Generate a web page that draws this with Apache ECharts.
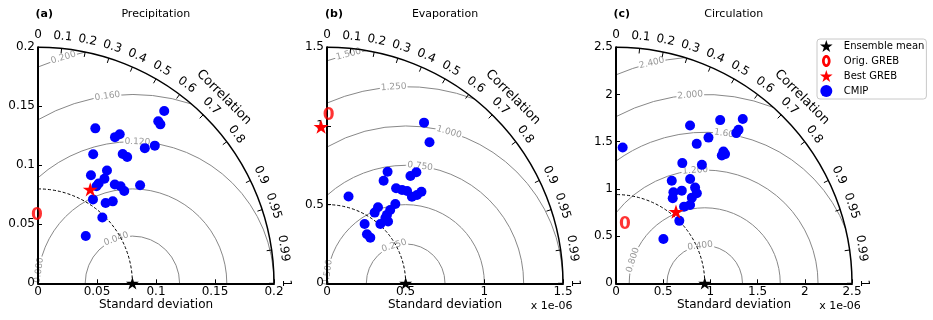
<!DOCTYPE html>
<html>
<head>
<meta charset="utf-8">
<script src="https://cdn.jsdelivr.net/npm/echarts@6/dist/echarts.min.js"></script>
<style>
    html, body { margin: 0; padding: 0; background: #fff; }
    #main { width: 933px; height: 320px; }
</style>
</head>
<body>
<div id="main"></div>
<script>
// correlation ticks on the outer arc
var corrTicks = [0, 0.1, 0.2, 0.3, 0.4, 0.5, 0.6, 0.7, 0.8, 0.9, 0.95, 0.99, 1];

// (a) Precipitation
var precipMax = 0.2, precipStep = 0.05;
var precipRef = 0.08;                       // ensemble mean std
var precipRms = [0.04, 0.08, 0.12, 0.16, 0.2];
var precipCmipStd  = [0.181, 0.171, 0.170, 0.140, 0.140, 0.144, 0.146, 0.153, 0.119, 0.131, 0.131, 0.112, 0.102, 0.105, 0.099, 0.096, 0.106, 0.108, 0.107, 0.120, 0.085, 0.089, 0.094, 0.078, 0.057];
var precipCmipCorr = [0.591, 0.596, 0.610, 0.347, 0.466, 0.481, 0.620, 0.647, 0.393, 0.548, 0.577, 0.522, 0.440, 0.536, 0.519, 0.516, 0.614, 0.648, 0.683, 0.721, 0.548, 0.644, 0.674, 0.699, 0.710];
var precipBest = [0.0911, 0.486];           // [std, corr]
var precipOrig = [0.0585, -0.015];

// (b) Evaporation (x 1e-06)
var evapMax = 1.5, evapStep = 0.5;
var evapRef = 0.5;
var evapRms = [0.25, 0.5, 0.75, 1.0, 1.25, 1.5];
var evapCmipStd  = [1.193, 1.108, 0.807, 0.906, 0.864, 0.745, 0.568, 0.747, 0.761, 0.777, 0.771, 0.801, 0.836, 0.665, 0.615, 0.582, 0.542, 0.578, 0.552, 0.507, 0.446, 0.402, 0.400, 0.557];
var evapCmipCorr = [0.517, 0.588, 0.477, 0.627, 0.614, 0.483, 0.241, 0.588, 0.627, 0.655, 0.700, 0.714, 0.718, 0.653, 0.653, 0.557, 0.559, 0.659, 0.703, 0.669, 0.536, 0.632, 0.688, 0.666];
var evapBest = [0.996, -0.038];
var evapOrig = [1.07, 0.01];

// (c) Circulation (x 1e-06)
var circMax = 2.5, circStep = 0.5;
var circRef = 0.94;
var circRms = [0.4, 0.8, 1.2, 1.6, 2.0, 2.4];
var circCmipStd  = [2.198, 2.051, 1.846, 2.080, 2.038, 1.440, 1.828, 1.707, 1.801, 1.757, 1.791, 1.454, 1.550, 1.356, 1.236, 1.315, 1.204, 1.141, 1.282, 1.212, 1.083, 1.142, 1.086, 0.942, 0.688];
var circCmipCorr = [0.611, 0.538, 0.425, 0.624, 0.625, 0.049, 0.536, 0.501, 0.632, 0.638, 0.645, 0.483, 0.587, 0.579, 0.478, 0.637, 0.579, 0.533, 0.668, 0.663, 0.555, 0.687, 0.664, 0.712, 0.730];
var circBest = [0.990, 0.642];
var circOrig = [0.643, 0.148];

var FONT = '"DejaVu Sans", sans-serif';
var STAR = 'path://M50,0L61.2,34.6L97.6,34.5L68.1,55.9L79.4,90.5L50,69L20.6,90.5L31.9,55.9L2.4,34.5L38.8,34.6Z';
// bold "0" glyph for the legend: outer ellipse clockwise, hole counter-clockwise
var ZERO = 'path://M5,0C7.76,0 10,3.13 10,7C10,10.87 7.76,14 5,14C2.24,14 0,10.87 0,7C0,3.13 2.24,0 5,0Z' +
           'M5,3.2C4.01,3.2 3.2,4.9 3.2,7C3.2,9.1 4.01,10.8 5,10.8C5.99,10.8 6.8,9.1 6.8,7C6.8,4.9 5.99,3.2 5,3.2Z';

var panels = [
    { max: precipMax, step: precipStep, ref: precipRef, rms: precipRms, std: precipCmipStd, corr: precipCmipCorr,
      best: precipBest, orig: precipOrig, left: 38, labelAngle: [110, 172, 88, 97.6, 107] },
    { max: evapMax, step: evapStep, ref: evapRef, rms: evapRms, std: evapCmipStd, corr: evapCmipCorr,
      best: evapBest, orig: evapOrig, left: 327, labelAngle: [107, 172, 83, 74, 93.5, 104] },
    { max: circMax, step: circStep, ref: circRef, rms: circRms, std: circCmipStd, corr: circCmipCorr,
      best: circBest, orig: circOrig, left: 616, labelAngle: [97, 162, 94.8, 81.6, 94.4, 103.5] }
];

// std/corr -> x,y of the Taylor plane
function toXY(s, r) {
    return [s * r, s * Math.sqrt(1 - r * r)];
}

function rmsItem(p) {
    return function (params, api) {
        var R = api.value(0);
        var c = api.coord([p.ref, 0]);
        var k = api.size([1, 0])[0];
        var M = p.max, r0 = p.ref;
        var a1 = 0, a2 = Math.PI;
        if (r0 + R > M) {
            var xi = (M * M - R * R + r0 * r0) / (2 * r0);
            a1 = Math.atan2(Math.sqrt(M * M - xi * xi), xi - r0);
        }
        if (R > r0) {
            a2 = Math.atan2(Math.sqrt(R * R - r0 * r0), -r0);
        }
        var la = p.labelAngle[params.dataIndex] * Math.PI / 180;
        return {
            type: 'group',
            children: [{
                type: 'arc',
                shape: { cx: c[0], cy: c[1], r: R * k, startAngle: -a1, endAngle: -a2, clockwise: false },
                style: { stroke: '#888', lineWidth: 1, fill: 'none' }
            }, {
                type: 'text',
                x: c[0] + R * k * Math.cos(la),
                y: c[1] - R * k * Math.sin(la),
                rotation: la - Math.PI / 2,
                style: {
                    text: R.toFixed(3), fill: '#999', font: '9px ' + FONT,
                    align: 'center', verticalAlign: 'middle',
                    backgroundColor: '#fff', padding: [0, 1]
                }
            }]
        };
    };
}

function frameItem(p) {
    return function (params, api) {
        var o = api.coord([0, 0]);
        var k = api.size([1, 0])[0];
        var R = p.max * k;
        var q = Math.PI / 4;
        return {
            type: 'group',
            children: [{
                type: 'arc',
                shape: { cx: o[0], cy: o[1], r: R, startAngle: 0, endAngle: -Math.PI / 2, clockwise: false },
                style: { stroke: '#000', lineWidth: 1.5, fill: 'none' }
            }, {
                type: 'arc',
                shape: { cx: o[0], cy: o[1], r: p.ref * k, startAngle: 0, endAngle: -Math.PI / 2, clockwise: false },
                style: { stroke: '#000', lineWidth: 1, lineDash: [3, 2], fill: 'none' }
            }, {
                type: 'text',
                x: o[0] + (R + 27) * Math.cos(q),
                y: o[1] - (R + 27) * Math.sin(q),
                rotation: q - Math.PI / 2,
                style: { text: 'Correlation', fill: '#000', font: '13px ' + FONT, align: 'center', verticalAlign: 'middle' }
            }]
        };
    };
}

function corrItem(p) {
    return function (params, api) {
        var r = api.value(0);
        var t = Math.acos(r);
        var o = api.coord([0, 0]);
        var R = p.max * api.size([1, 0])[0];
        var cs = Math.cos(t), sn = Math.sin(t);
        return {
            type: 'group',
            children: [{
                type: 'line',
                shape: { x1: o[0] + R * cs, y1: o[1] - R * sn, x2: o[0] + (R - 5) * cs, y2: o[1] - (R - 5) * sn },
                style: { stroke: '#000', lineWidth: 1 }
            }, {
                type: 'text',
                x: o[0] + (R + 12) * cs,
                y: o[1] - (R + 12) * sn,
                rotation: t - Math.PI / 2,
                style: { text: String(r), fill: '#000', font: '12px ' + FONT, align: 'center', verticalAlign: 'middle' }
            }]
        };
    };
}

var grids = [], xAxes = [], yAxes = [], series = [];
panels.forEach(function (p, i) {
    grids.push({ left: p.left, top: 47.3, width: 236, height: 236 });
    var axisCommon = {
        gridIndex: i, type: 'value', min: 0, max: p.max, interval: p.step, z: 5,
        axisLine: { lineStyle: { color: '#000', width: 2 } },
        axisTick: { inside: true, length: 4, lineStyle: { color: '#000', width: 1 } },
        axisLabel: { color: '#000', fontSize: 12, fontFamily: FONT, margin: 3 },
        splitLine: { show: false }
    };
    xAxes.push(Object.assign({}, axisCommon, {
        name: 'Standard deviation', nameLocation: 'middle', nameGap: 16, nameMoveOverlap: false,
        nameTextStyle: { color: '#000', fontSize: 12, fontFamily: FONT }
    }));
    yAxes.push(Object.assign({}, axisCommon));

    var cmip = p.std.map(function (s, j) { return toXY(s, p.corr[j]); });
    series.push(
        { type: 'custom', xAxisIndex: i, yAxisIndex: i, z: 1, silent: true,
          data: p.rms.map(function (v) { return [v, 0]; }), renderItem: rmsItem(p) },
        { type: 'custom', xAxisIndex: i, yAxisIndex: i, z: 2, silent: true,
          data: [[0, 0]], renderItem: frameItem(p) },
        { type: 'custom', xAxisIndex: i, yAxisIndex: i, z: 2, silent: true,
          data: corrTicks.map(function (v) { return [v, 0]; }), renderItem: corrItem(p) },
        { type: 'scatter', name: 'CMIP', xAxisIndex: i, yAxisIndex: i, z: 10, clip: false,
          symbol: 'circle', symbolSize: 10, itemStyle: { color: '#0000ff', opacity: 1 }, data: cmip },
        // the "0" marker is drawn as a bold text label on the point
        { type: 'scatter', name: 'Orig. GREB', xAxisIndex: i, yAxisIndex: i, z: 11, clip: false,
          symbol: 'circle', symbolSize: 1, itemStyle: { color: 'rgba(255,0,0,0)' },
          label: { show: true, position: 'inside', formatter: '0', color: '#ff0000', offset: [0, 1],
                   fontSize: 17, fontWeight: 'bold', fontFamily: FONT },
          data: [toXY(p.orig[0], p.orig[1])] },
        { type: 'scatter', name: 'Best GREB', xAxisIndex: i, yAxisIndex: i, z: 12, clip: false,
          symbol: STAR, symbolKeepAspect: true, symbolSize: 15, itemStyle: { color: '#ff0000', opacity: 1 },
          data: [toXY(p.best[0], p.best[1])] },
        { type: 'scatter', name: 'Ensemble mean', xAxisIndex: i, yAxisIndex: i, z: 13, clip: false,
          symbol: STAR, symbolKeepAspect: true, symbolSize: 13, itemStyle: { color: '#000', opacity: 1 },
          data: [toXY(p.ref, 1)] }
    );
});

function txt(x, y, s, size, weight) {
    return { type: 'text', x: x, y: y, z: 20,
             style: { text: s, fill: '#000', font: (weight || 'normal') + ' ' + size + 'px ' + FONT,
                      align: 'center', verticalAlign: 'middle' } };
}

var myChart = echarts.init(document.getElementById('main'));
myChart.setOption({
    animation: false,
    backgroundColor: '#fff',
    grid: grids,
    xAxis: xAxes,
    yAxis: yAxes,
    legend: {
        orient: 'vertical', left: 817, top: 39,
        padding: [1, 2, 2, 3], itemGap: 3, itemWidth: 25, itemHeight: 12,
        borderColor: '#c8c8c8', borderWidth: 1, borderRadius: 3, backgroundColor: '#fff',
        textStyle: { color: '#000', fontSize: 10, fontFamily: FONT },
        data: [
            { name: 'Ensemble mean', icon: STAR, itemStyle: { color: '#000', opacity: 1 } },
            { name: 'Orig. GREB', icon: ZERO, itemStyle: { color: '#ff0000', opacity: 1 } },
            { name: 'Best GREB', icon: STAR, itemStyle: { color: '#ff0000', opacity: 1 } },
            { name: 'CMIP', icon: 'circle', itemStyle: { color: '#0000ff', opacity: 1 } }
        ]
    },
    graphic: [
        txt(44.3, 14, '(a)', 11, 'bold'), txt(155.8, 14, 'Precipitation', 11),
        txt(334, 14, '(b)', 11, 'bold'), txt(445, 14, 'Evaporation', 11),
        txt(621.7, 14, '(c)', 11, 'bold'), txt(733.8, 14, 'Circulation', 11),
        txt(551.7, 305.7, 'x 1e-06', 11), txt(840, 305.7, 'x 1e-06', 11)
    ],
    series: series
});
</script>
</body>
</html>
